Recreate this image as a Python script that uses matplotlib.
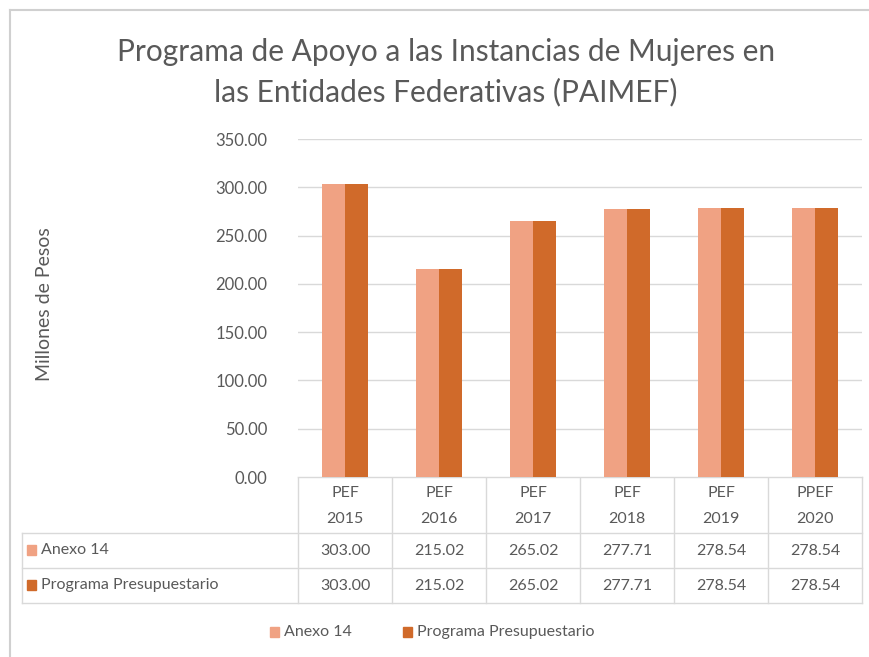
import numpy as np
import matplotlib
matplotlib.use("Agg")
import matplotlib.pyplot as plt

plt.rcParams['font.family'] = ['Lato', 'DejaVu Sans']

years = ['PEF\n2015', 'PEF\n2016', 'PEF\n2017', 'PEF\n2018', 'PEF\n2019', 'PPEF\n2020']
anexo = [303.00, 215.02, 265.02, 277.71, 278.54, 278.54]
programa = [303.00, 215.02, 265.02, 277.71, 278.54, 278.54]
series_names = ['Anexo 14', 'Programa Presupuestario']

c_light = '#F0A283'
c_dark = '#D06A2A'
txt = '#595959'
grid_c = '#D9D9D9'

W, H = 869, 657
fig = plt.figure(figsize=(W / 100, H / 100), dpi=100)

# pixel helper axes for frame, table and legend
bg = fig.add_axes([0, 0, 1, 1])
bg.set_xlim(0, W)
bg.set_ylim(H, 0)
bg.axis('off')

# plot area
x0, x1, ytop, ybot = 298, 862, 139, 477
ax = fig.add_axes([x0 / W, 1 - ybot / H, (x1 - x0) / W, (ybot - ytop) / H])
x = np.arange(len(years))
bw = 0.24
ax.bar(x - bw / 2, anexo, bw, color=c_light, zorder=3)
ax.bar(x + bw / 2, programa, bw, color=c_dark, zorder=3)
ax.set_xlim(-0.5, len(years) - 0.5)
ax.set_ylim(0, 350)
ax.set_yticks(np.arange(0, 351, 50))
ax.set_yticklabels([f'{v:.2f}' for v in np.arange(0, 351, 50)], color=txt, fontsize=12)
ax.yaxis.grid(True, color=grid_c, lw=1, zorder=0)
ax.set_xticks([])
ax.tick_params(axis='y', length=0, pad=22)
for s in ax.spines.values():
    s.set_visible(False)

# outer frame
bg.plot([10, 10], [10, H], color='#D0D0D0', lw=1.5)
bg.plot([10, W], [10, 10], color='#D0D0D0', lw=1.5)

# title
bg.text(446, 52, 'Programa de Apoyo a las Instancias de Mujeres en', ha='center', va='center',
        fontsize=21.5, color=txt)
bg.text(446, 92, 'las Entidades Federativas (PAIMEF)', ha='center', va='center',
        fontsize=21.5, color=txt)

# y label
bg.text(45, 304, 'Millones de Pesos', rotation=90, ha='center', va='center', fontsize=14, color=txt)

# data table
line_c = '#D9D9D9'
cols = np.linspace(x0, x1, len(years) + 1)
rows = [477, 533, 568, 603]
bg.plot([x0, x1], [rows[0], rows[0]], color=line_c, lw=1)
for r in rows[1:]:
    bg.plot([22, x1], [r, r], color=line_c, lw=1)
for c in cols:
    bg.plot([c, c], [rows[0], rows[-1]], color=line_c, lw=1)
bg.plot([22, 22], [rows[1], rows[-1]], color=line_c, lw=1)

for i, lab in enumerate(years):
    cx = (cols[i] + cols[i + 1]) / 2
    top, bottom = lab.split('\n')
    bg.text(cx, 493, top, ha='center', va='center', fontsize=11.5, color=txt)
    bg.text(cx, 519, bottom, ha='center', va='center', fontsize=11.5, color=txt)
    bg.text(cx, 551, f'{anexo[i]:.2f}', ha='center', va='center', fontsize=11.5, color=txt)
    bg.text(cx, 586, f'{programa[i]:.2f}', ha='center', va='center', fontsize=11.5, color=txt)

for yy, name, col in [(550, series_names[0], c_light), (585, series_names[1], c_dark)]:
    bg.add_patch(plt.Rectangle((27, yy - 5), 9, 10, color=col))
    bg.text(41, yy, name, ha='left', va='center', fontsize=11.5, color=txt)

# legend
for lx, name, col in [(270, series_names[0], c_light), (403, series_names[1], c_dark)]:
    bg.add_patch(plt.Rectangle((lx, 627), 9, 10, color=col))
    bg.text(lx + 14, 632, name, ha='left', va='center', fontsize=11.5, color=txt)

fig.savefig('out.png', dpi=100)
